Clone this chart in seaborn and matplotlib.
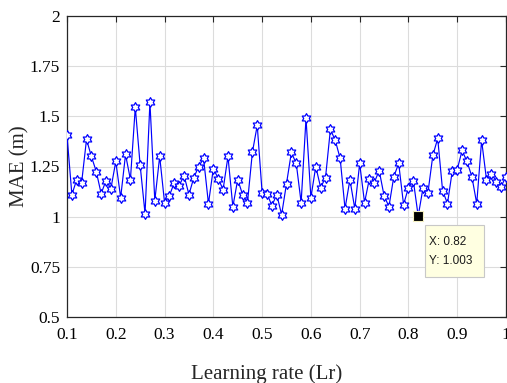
import numpy as np
import pandas as pd
import matplotlib
matplotlib.use("Agg")
import matplotlib.pyplot as plt
from matplotlib.path import Path
from matplotlib.patches import Rectangle
from matplotlib.transforms import IdentityTransform
import seaborn as sns

# learning rate sweep 0.10 .. 1.00 (step 0.01), MAE
lr = np.round(np.arange(0.10, 1.0001, 0.01), 2)
mae = [1.405, 1.11, 1.185, 1.17, 1.385, 1.30, 1.225, 1.115, 1.18, 1.14,
       1.275, 1.095, 1.31, 1.185, 1.545, 1.255, 1.015, 1.57, 1.08, 1.30,
       1.07, 1.105, 1.17, 1.155, 1.205, 1.11, 1.195, 1.25, 1.29, 1.065,
       1.24, 1.19, 1.135, 1.30, 1.05, 1.185, 1.11, 1.07, 1.32, 1.455,
       1.12, 1.115, 1.055, 1.11, 1.01, 1.165, 1.32, 1.265, 1.07, 1.49,
       1.095, 1.25, 1.145, 1.195, 1.435, 1.38, 1.29, 1.04, 1.185, 1.04,
       1.265, 1.07, 1.19, 1.17, 1.23, 1.105, 1.05, 1.20, 1.265, 1.06,
       1.145, 1.18, 1.003, 1.145, 1.12, 1.305, 1.39, 1.13, 1.065, 1.23,
       1.235, 1.33, 1.275, 1.20, 1.065, 1.38, 1.185, 1.215, 1.175, 1.15,
       1.20]

x_ticks = [0.1, 0.2, 0.3, 0.4, 0.5, 0.6, 0.7, 0.8, 0.9, 1.0]
x_ticklabels = ["0.1", "0.2", "0.3", "0.4", "0.5", "0.6", "0.7", "0.8", "0.9", "1"]
y_ticks = [0.5, 0.75, 1.0, 1.25, 1.5, 1.75, 2.0]
y_ticklabels = ["0.5", "0.75", "1", "1.25", "1.5", "1.75", "2"]

tip_x = 0.82
tip_y = 1.003

df = pd.DataFrame({"Lr": lr, "MAE": mae})

# hexagram marker (MATLAB 'h')
ang_out = np.deg2rad(90 + 60 * np.arange(6))
ang_in = ang_out + np.deg2rad(30)
r_in = 1 / np.sqrt(3)
verts = []
for a, b in zip(ang_out, ang_in):
    verts.append((np.cos(a), np.sin(a)))
    verts.append((r_in * np.cos(b), r_in * np.sin(b)))
verts.append(verts[0])
hexagram = Path(verts, closed=True)

sns.set_style("white")
plt.rcParams['font.family'] = ['Liberation Serif', 'DejaVu Serif']

fig = plt.figure(figsize=(5.07, 3.83), dpi=100)
ax = fig.add_axes([67 / 507, 66 / 383, 439 / 507, 301 / 383])

sns.lineplot(data=df, x="Lr", y="MAE", ax=ax, color="blue", linewidth=0.85,
             marker=hexagram, markersize=7, markerfacecolor="white",
             markeredgecolor="blue", markeredgewidth=0.9, zorder=3)

ax.set_xlim(0.1, 1.0)
ax.set_ylim(0.5, 2.0)
ax.set_xticks(x_ticks)
ax.set_xticklabels(x_ticklabels)
ax.set_yticks(y_ticks)
ax.set_yticklabels(y_ticklabels)
ax.tick_params(direction="in", length=4, width=0.8, colors="#262626",
               labelsize=12.5, top=True, right=True, pad=5)
ax.tick_params(axis="x", pad=7)
for lab in ax.get_xticklabels() + ax.get_yticklabels():
    lab.set_color("black")

ax.grid(True, color="#dcdcdc", linewidth=0.8)
ax.set_axisbelow(True)
for sp in ax.spines.values():
    sp.set_color("#262626")
    sp.set_linewidth(0.9)

ax.set_xlabel("Learning rate (Lr)", fontsize=15)
ax.set_ylabel("MAE (m)", fontsize=15)
ax.xaxis.set_label_coords((267 - 67) / 439, -47 / 301)
ax.yaxis.set_label_coords((29 - 67) / 439, 0.5)

# data tip: marker, box and two text lines
ax.plot([tip_x], [tip_y], marker="s", markersize=7, color="black",
        markeredgecolor="#f5f0c0", markeredgewidth=0.8, zorder=5)
px, py = ax.transData.transform((tip_x, tip_y))
ax.add_patch(Rectangle((px + 7, py - 61), 59, 52.5, transform=IdentityTransform(),
                       fc="#ffffe1", ec="#c8c8c8", lw=0.8, zorder=6, clip_on=False))
for k, line in enumerate([f"X: {tip_x:.2f}", f"Y: {tip_y:.3f}"]):
    ax.annotate(line, xy=(tip_x, tip_y), xytext=(11, -26 - 19.4 * k),
                textcoords="offset pixels", ha="left", va="center",
                fontsize=8.5, family="Liberation Sans", color="#1a1a1a",
                zorder=7, annotation_clip=False)

fig.savefig("out.png", dpi=100)
